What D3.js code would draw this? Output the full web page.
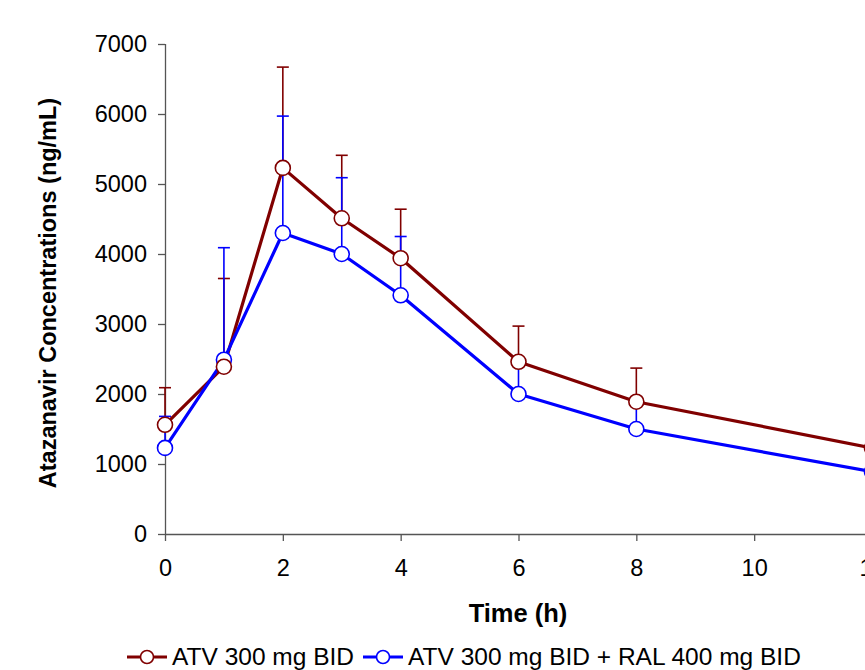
<!DOCTYPE html>
<html>
<head>
<meta charset="utf-8">
<script src="https://cdn.jsdelivr.net/npm/d3@7"></script>
<style>
  html, body { margin: 0; padding: 0; background: #fff; }
  svg { display: block; font-family: Arial, "Liberation Sans", sans-serif; }
</style>
</head>
<body>
<svg id="chart" width="865" height="670"></svg>
<script>
// Sampling times (h)
const times = [0, 1, 2, 3, 4, 6, 8, 12];
// Mean atazanavir concentrations (ng/mL) and upper SD
const atvMean = [1560, 2390, 5230, 4510, 3940, 2460, 1890, 1230];
const atvSD   = [530, 1260, 1440, 900, 700, 510, 480, 0];
const ralMean = [1230, 2490, 4300, 4000, 3410, 2000, 1500, 890];
const ralSD   = [450, 1600, 1670, 1090, 840, 430, 360, 0];
const seriesNames = ["ATV 300 mg BID", "ATV 300 mg BID + RAL 400 mg BID"];
const seriesColors = ["#800000", "#0000ff"];
const xTicks = [0, 2, 4, 6, 8, 10, 12];
const yTicks = [0, 1000, 2000, 3000, 4000, 5000, 6000, 7000];

const svg = d3.select("#chart");
const x = d3.scaleLinear().domain([0, 12]).range([165, 872]);
const y = d3.scaleLinear().domain([0, 7000]).range([534, 44]);

const axisColor = "#555";

// y axis
const yAxis = svg.append("g").attr("transform", "translate(165,0)")
  .call(d3.axisLeft(y).tickValues(yTicks).tickSize(7).tickPadding(11).tickFormat(d3.format("d")));
// x axis
const xAxis = svg.append("g").attr("transform", "translate(0,534)")
  .call(d3.axisBottom(x).tickValues(xTicks).tickSize(7).tickPadding(18).tickFormat(d3.format("d")));

[yAxis, xAxis].forEach(g => {
  g.select(".domain").attr("stroke", axisColor).attr("stroke-width", 1.3);
  g.selectAll(".tick line").attr("stroke", axisColor).attr("stroke-width", 1.3);
  g.selectAll(".tick text").attr("fill", "#000").style("font-size", "23.5px")
    .style("font-family", "Arial, 'Liberation Sans', sans-serif");
});
xAxis.select(".domain").attr("d", "M165,0.5H872");
yAxis.select(".domain").attr("d", "M0.5,44V534");

const series = [
  { mean: atvMean, sd: atvSD, color: seriesColors[0] },
  { mean: ralMean, sd: ralSD, color: seriesColors[1] }
];

// error bars (upper only)
series.forEach(s => {
  const g = svg.append("g");
  times.forEach((t, i) => {
    if (!s.sd[i]) return;
    const cx = x(t), y0 = y(s.mean[i]), y1 = y(s.mean[i] + s.sd[i]);
    g.append("line").attr("x1", cx).attr("x2", cx).attr("y1", y0).attr("y2", y1)
      .attr("stroke", s.color).attr("stroke-width", 1.6);
    g.append("line").attr("x1", cx - 6).attr("x2", cx + 6).attr("y1", y1).attr("y2", y1)
      .attr("stroke", s.color).attr("stroke-width", 1.6);
  });
});

// mean lines
const line = d3.line().x((d, i) => x(times[i])).y(d => y(d));
series.forEach(s => {
  svg.append("path").datum(s.mean).attr("d", line)
    .attr("fill", "none").attr("stroke", s.color).attr("stroke-width", 3.2)
    .attr("stroke-linejoin", "round");
});

// markers (blue first, dark red on top)
[series[1], series[0]].forEach(s => {
  svg.append("g").selectAll("circle").data(s.mean).join("circle")
    .attr("cx", (d, i) => x(times[i])).attr("cy", d => y(d)).attr("r", 7.5)
    .attr("fill", "#fff").attr("stroke", s.color).attr("stroke-width", 1.6);
});

// axis titles
svg.append("text").attr("x", 518).attr("y", 622).attr("text-anchor", "middle")
  .style("font-size", "25.5px").style("font-weight", "bold").text("Time (h)");
svg.append("text").attr("transform", "translate(56,293) rotate(-90)").attr("text-anchor", "middle")
  .style("font-size", "23.5px").style("font-weight", "bold").text("Atazanavir Concentrations (ng/mL)");

// legend
const legendItems = [
  { x0: 127, tx: 172 },
  { x0: 363, tx: 408 }
];
legendItems.forEach((it, i) => {
  const cy = 657;
  svg.append("line").attr("x1", it.x0).attr("x2", it.x0 + 40).attr("y1", cy).attr("y2", cy)
    .attr("stroke", seriesColors[i]).attr("stroke-width", 3);
  svg.append("circle").attr("cx", it.x0 + 20).attr("cy", cy).attr("r", 6.5)
    .attr("fill", "#fff").attr("stroke", seriesColors[i]).attr("stroke-width", 1.6);
  svg.append("text").attr("x", it.tx).attr("y", 665).style("font-size", "24.5px")
    .attr("fill", "#000").text(seriesNames[i]);
});
</script>
</body>
</html>
